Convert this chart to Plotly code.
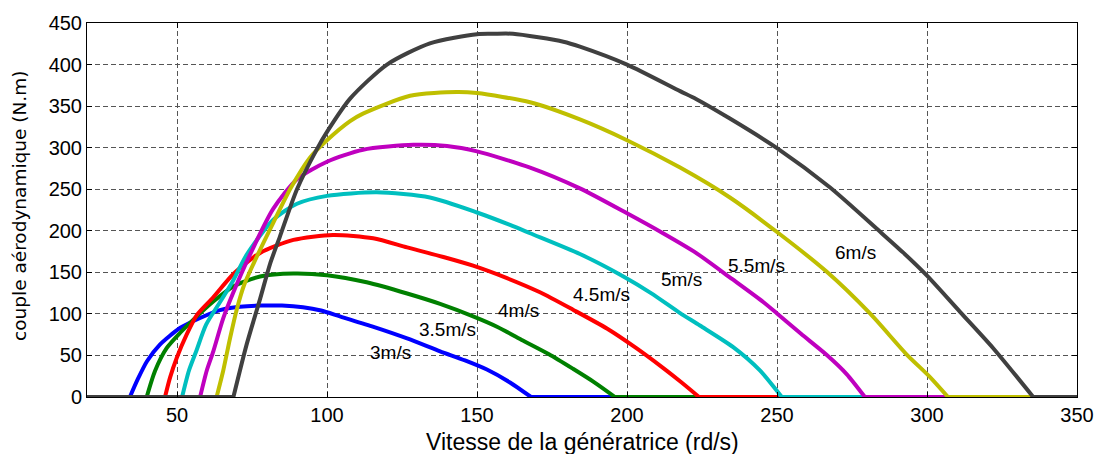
import plotly.graph_objects as go

# Aerodynamic torque vs generator speed, one curve per wind speed
speed_3 = [20, 34.3, 37, 40, 44.3, 51, 57.7, 64.3, 71, 78, 85, 92, 98, 104.3, 115, 126.7, 137.7, 146, 153.3, 161, 168, 350]
torque_3 = [0, 0, 22, 43, 63, 83, 95, 104.5, 108.5, 110, 110, 108, 104, 97, 85, 70.5, 55, 44, 33, 17.5, 0, 0]

speed_35 = [20, 39.9, 42.7, 46.6, 51, 56.6, 62.1, 68.8, 77.7, 88.8, 100, 113.2, 126.7, 137.7, 148.7, 157, 165.3, 174, 182, 189, 196, 350]
torque_35 = [0, 0, 31.6, 59, 77, 97, 115, 133, 145, 148.6, 146.5, 138, 124.5, 112, 97, 84, 68, 51.5, 34, 18, 0, 0]

speed_4 = [20, 46, 47.7, 49.9, 53.2, 56.6, 62.1, 68.8, 77.7, 88.8, 102, 115.4, 126.7, 138.8, 148.7, 160, 171, 182, 193.3, 203, 212, 218, 224, 350]
torque_4 = [0, 0, 23.6, 47, 75, 98.6, 120, 148, 173.4, 189, 195, 191, 180, 168.5, 158, 143, 126, 105, 82.4, 59, 35, 18, 0, 0]

speed_45 = [20, 51.7, 54, 56.4, 59.7, 64.3, 68.4, 73.2, 82, 90, 100, 116.6, 134.3, 150, 161, 167.7, 184.3, 198.8, 208, 217.7, 224.3, 235.4, 244.3, 251.6, 350]
torque_45 = [0, 0, 32, 55, 87, 114, 138, 171, 213, 232.5, 242, 246.3, 240, 222, 207, 197, 172, 145, 125, 101, 86, 60, 32, 0, 0]

speed_5 = [20, 57.7, 59.9, 62.1, 65.4, 68.8, 74.3, 82, 90, 100, 112, 128.8, 140, 150, 167.7, 184.3, 200, 212, 223, 235, 245.4, 250, 258, 266.6, 273.2, 279.3, 350]
torque_5 = [0, 0, 31.6, 55, 94.6, 126, 171, 226, 262, 283, 297.5, 303.4, 302, 295.5, 276, 251, 221, 197, 173.4, 142, 114.3, 100.5, 76, 50.5, 27.6, 0, 0]

speed_55 = [20, 63.2, 65.4, 67.7, 69.9, 72.4, 77, 82, 88, 94.3, 100, 107.7, 112, 127.7, 143.2, 150, 167.7, 184.3, 200, 217.7, 234.3, 250, 266.6, 281, 293, 301, 307, 350]
torque_55 = [0, 0, 31.6, 71, 105, 135, 172, 209, 252, 288, 309, 332, 341, 362.5, 367, 365.7, 354.6, 334, 309, 276, 240, 198.5, 150.6, 100.5, 52, 24, 0, 0]

speed_6 = [20, 68.8, 73.2, 77.7, 81, 84.3, 90, 96.6, 100, 107.7, 120, 134.3, 150, 155.5, 162, 178.8, 184.3, 200, 217.7, 223, 234.3, 250, 267.7, 284.3, 292, 300, 311, 322, 335.4, 350]
torque_6 = [0, 0, 63, 118, 160, 193, 250, 298, 319, 359, 400, 425.5, 436.6, 437, 437, 427.5, 421.6, 400, 368, 358.6, 335, 299.5, 252, 199, 174, 146, 102.5, 59, 0, 0]

curves = [
    (speed_3, torque_3, "#0000FF"),
    (speed_35, torque_35, "#008000"),
    (speed_4, torque_4, "#FF0000"),
    (speed_45, torque_45, "#00BFBF"),
    (speed_5, torque_5, "#BF00BF"),
    (speed_55, torque_55, "#BFBF00"),
    (speed_6, torque_6, "#404040"),
]

# Wind-speed labels placed next to the curves
label_text = ["3m/s", "3.5m/s", "4m/s", "4.5m/s", "5m/s", "5.5m/s", "6m/s"]
label_x = [121, 140, 163.8, 191.6, 218, 243, 276]
label_y = [53, 81, 104.5, 123, 141, 158, 173.4]

x_ticks = [50, 100, 150, 200, 250, 300, 350]
y_ticks = [0, 50, 100, 150, 200, 250, 300, 350, 400, 450]

FONT = "Liberation Sans, Arial, sans-serif"
LINE_W = 4

fig = go.Figure()
for xs, ys, color in curves:
    # flat zero parts drawn straight, the hump itself smoothed
    nz = [i for i, v in enumerate(ys) if v > 0]
    i0, i1 = nz[0] - 1, nz[-1] + 1
    for seg_x, seg_y, shape in (
        (xs[:i0 + 1], ys[:i0 + 1], "linear"),
        (xs[i0:i1 + 1], ys[i0:i1 + 1], "spline"),
        (xs[i1:], ys[i1:], "linear"),
    ):
        fig.add_trace(go.Scatter(x=seg_x, y=seg_y, mode="lines",
                                 line=dict(color=color, width=LINE_W,
                                           shape=shape, smoothing=0.7),
                                 showlegend=False, hoverinfo="skip"))

for t, lx, ly in zip(label_text, label_x, label_y):
    fig.add_annotation(x=lx, y=ly, text=t, showarrow=False,
                       xanchor="center", yanchor="middle",
                       font=dict(family=FONT, size=19, color="#000000"))

fig.add_annotation(xref="paper", yref="paper", x=0.5, y=-0.121,
                   text="Vitesse de la génératrice (rd/s)", showarrow=False,
                   xanchor="center", yanchor="middle",
                   font=dict(family=FONT, size=23, color="#000000"))
fig.add_annotation(xref="paper", yref="paper", x=-0.068, y=0.51,
                   text="couple aérodynamique (N.m)", showarrow=False,
                   textangle=-90, xanchor="center", yanchor="middle",
                   font=dict(family="DejaVu Sans, sans-serif", size=18.5, color="#000000"))

axis_common = dict(
    showline=True, linecolor="#000000", linewidth=1, mirror="ticks",
    ticks="inside", ticklen=5, tickcolor="#000000", tickwidth=1,
    showgrid=True, gridcolor="#555555", gridwidth=1, griddash="5px,3px",
    zeroline=False, tickfont=dict(family=FONT, size=20, color="#000000"),
)

fig.update_xaxes(range=[20, 350], tickvals=x_ticks, **axis_common)
fig.update_yaxes(range=[0, 450], tickvals=y_ticks, **axis_common)

fig.update_layout(
    width=1106, height=454,
    margin=dict(l=87, r=29, t=16, b=57),
    paper_bgcolor="#FFFFFF", plot_bgcolor="#FFFFFF",
)

fig.write_html("out.html")
